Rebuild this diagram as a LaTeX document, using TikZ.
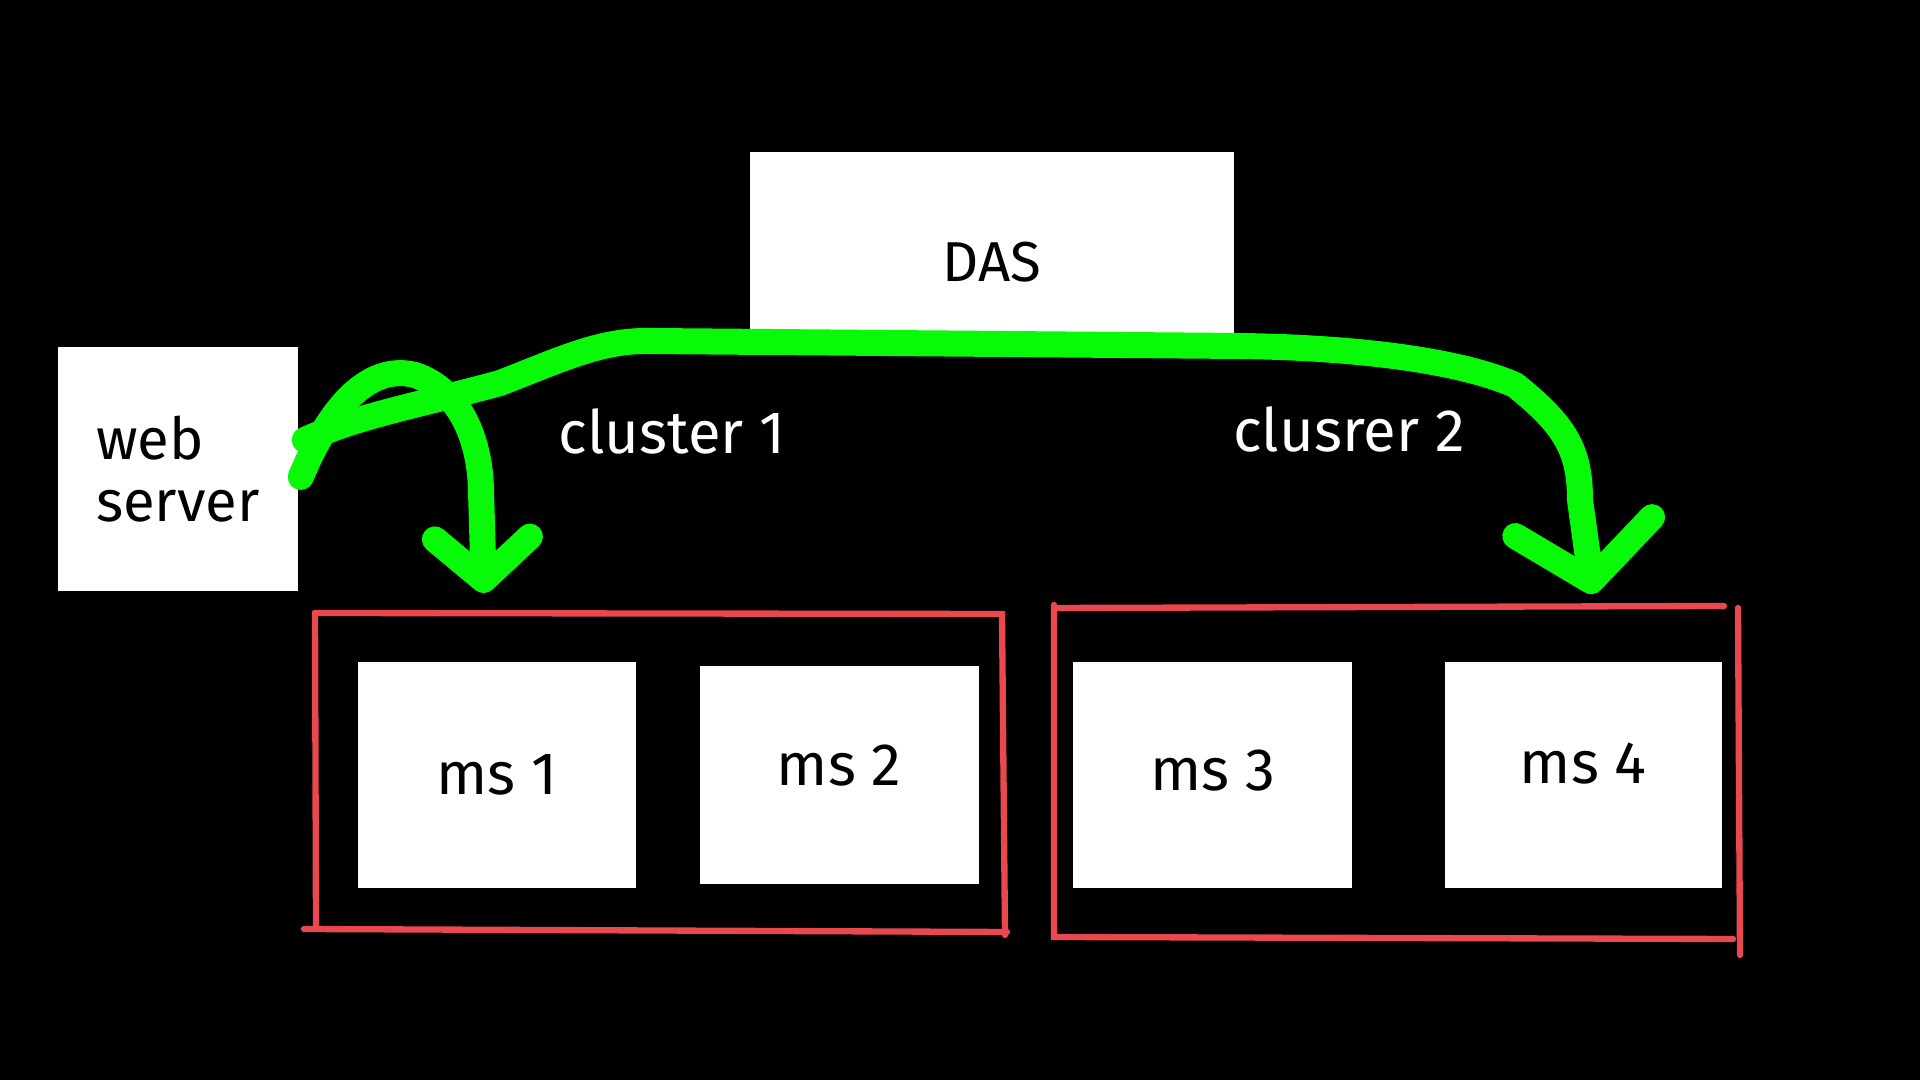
\documentclass[tikz,border=0pt]{standalone}
\usepackage{fontspec}
\setmainfont{Fira Sans}
\usepackage{xcolor}
\usetikzlibrary{arrows.meta, positioning, calc}

\definecolor{linkgreen}{RGB}{8,250,8}
\definecolor{clusterred}{RGB}{233,72,78}

\begin{document}
\begin{tikzpicture}[x=0.01cm, y=-0.01cm,
  box/.style={rectangle, fill=white, text=black, inner sep=0pt, font=\fontsize{17}{18}\selectfont},
  clusterframe/.style={draw=clusterred, line width=1.8pt, line cap=round},
  link/.style={draw=linkgreen, line width=7.4pt, line cap=round, line join=round, -{Straight Barb[length=0.42cm, width=0.95cm, round]}},
  tag/.style={text=white, font=\fontsize{17}{18}\selectfont}]
\fill[black] (0,0) rectangle (1920,1080);
\useasboundingbox (0,0) rectangle (1920,1080);

\node[box, minimum width=4.83cm, minimum height=1.88cm, text height=0.71cm, font=\fontsize{16}{18}\selectfont] (das) at (992,246) {DAS};
\node[box, minimum width=2.4cm, minimum height=2.44cm, align=left, font=\fontsize{16.5}{17.5}\selectfont] (web) at (178,469) {web\\server};

\node[box, minimum width=2.78cm, minimum height=2.26cm] (ms1) at (497,775) {ms 1};
\node[box, minimum width=2.79cm, minimum height=2.18cm, text depth=0.2cm, right=0.62cm of ms1] (ms2) {ms 2};
\node[box, minimum width=2.79cm, minimum height=2.26cm, text depth=0.1cm, right=0.93cm of ms2] (ms3) {ms 3};
\node[box, minimum width=2.77cm, minimum height=2.26cm, text depth=0.24cm, right=0.91cm of ms3] (ms4) {ms 4};

\node[tag] (cluster1) at (672,431) {cluster 1};
\node[tag] (cluster2) at (1349,429) {clusrer 2};

\draw[clusterframe] (315,613) -- (1002,614) -- (1005,935);
\draw[clusterframe] (315,613) -- (316,925);
\draw[clusterframe] (304,929) -- (1007,932);
\draw[clusterframe] (1054,605) -- (1054,937) -- (1733,939);
\draw[clusterframe] (1054,608) -- (1724,606);
\draw[clusterframe] (1738,608) -- (1740,955);

\coordinate (in1) at (484,593);
\coordinate (in2) at (1593,594);

\draw[link] ($(web.east)+(2,8)$) .. controls (335,395) and (375,365) .. (415,375) .. controls (460,390) and (480,440) .. (481,490) -- (in1);
\draw[link, -{Straight Barb[length=0.55cm, width=1.38cm, round]}] ($(web.east)+(6,-29)$) .. controls (360,415) and (420,405) .. (500,383) .. controls (560,360) and (600,340) .. (650,341) -- (1240,346) .. controls (1380,348) and (1470,365) .. (1515,385) .. controls (1565,425) and (1580,450) .. (1580,500) -- (in2);
\end{tikzpicture}
\end{document}
